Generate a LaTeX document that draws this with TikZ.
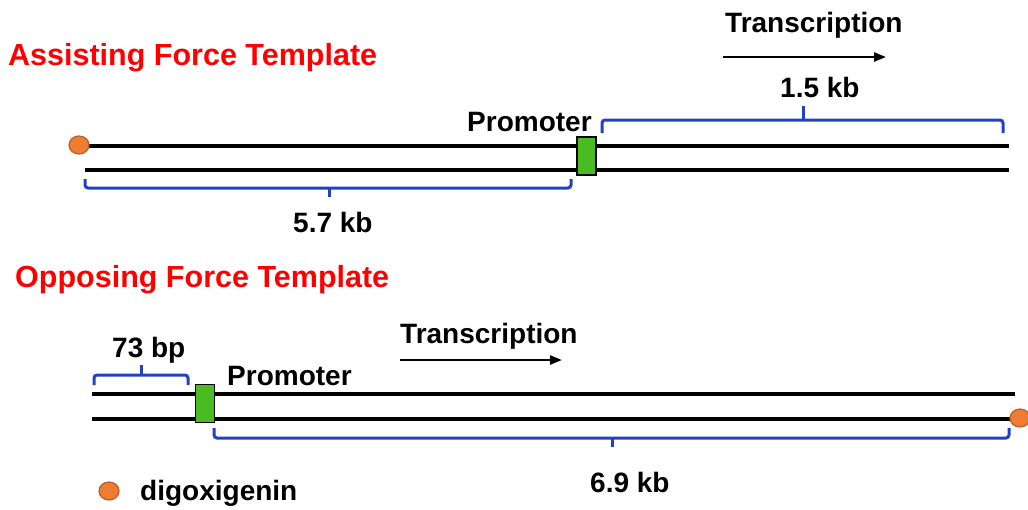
\documentclass[tikz,border=0pt]{standalone}
\usepackage{fontspec}
\setmainfont{Liberation Sans}
\usetikzlibrary{arrows.meta,shapes.geometric}
\definecolor{titlered}{RGB}{255,0,0}
\definecolor{bracketblue}{RGB}{34,64,196}
\definecolor{promgreen}{RGB}{72,188,32}
\definecolor{digorange}{RGB}{237,125,49}
\definecolor{digedge}{RGB}{190,94,34}
\tikzset{
  title/.style={anchor=base west, inner sep=0pt, text=titlered, font=\fontsize{30.5}{34}\selectfont\bfseries},
  label/.style={anchor=base west, inner sep=0pt, font=\fontsize{28}{32}\selectfont\bfseries},
  strand/.style={line width=3.2pt, black},
  bracket/.style={line width=3pt, bracketblue, rounded corners=3pt},
  promoter/.style={draw=black, line width=1.4pt, fill=promgreen, minimum width=19pt, minimum height=38pt, inner sep=0pt},
  digdot/.style={ellipse, draw=digedge, line width=1.2pt, fill=digorange, minimum width=20pt, minimum height=18pt, inner sep=0pt},
  txarrow/.style={line width=2.4pt, -{Triangle[length=12pt, width=9pt]}}
}
\begin{document}
\begin{tikzpicture}[x=1pt, y=-1pt]
\useasboundingbox (0,0) rectangle (1028,509);

% ---------- assisting force template ----------
\node[title] (assistTitle) at (8,65) {Assisting Force Template};
\node[label] (assistTx) at (725,32) {Transcription};
\coordinate (assistArrowL) at (723,57);
\coordinate (assistArrowR) at (886,57);
\draw[txarrow] (assistArrowL) -- (assistArrowR);

\coordinate (aTopL) at (80,146);
\coordinate (aTopR) at (1009,146);
\coordinate (aBotL) at (85,170);
\coordinate (aBotR) at (1009,170);
\draw[strand] (aTopL) -- (aTopR);
\draw[strand] (aBotL) -- (aBotR);
\node[promoter] (assistProm) at (586.5,156) {};
\node[digdot] (assistDig) at (79,145) {};
\node[label] (assistPromLbl) at (467,131) {Promoter};

% 1.5 kb bracket
\coordinate (b15L) at (602,133);
\coordinate (b15R) at (1003,133);
\coordinate (b15Tip) at (803,106);
\draw[bracket] (b15L) -- (602,120) -- (1003,120) -- (b15R);
\draw[bracket] (803,120) -- (b15Tip);
\node[label] (kb15) at (780,97) {1.5 kb};

% 5.7 kb bracket
\coordinate (b57L) at (85,179);
\coordinate (b57R) at (571,179);
\coordinate (b57Tip) at (329,197);
\draw[bracket] (b57L) -- (85,188) -- (571,188) -- (b57R);
\draw[bracket] (329,188) -- (b57Tip);
\node[label] (kb57) at (293,232) {5.7 kb};

% ---------- opposing force template ----------
\node[title] (opposeTitle) at (15,287) {Opposing Force Template};
\node[label] (opposeTx) at (400,343) {Transcription};
\coordinate (opposeArrowL) at (400,360);
\coordinate (opposeArrowR) at (562,360);
\draw[txarrow] (opposeArrowL) -- (opposeArrowR);

\coordinate (oTopL) at (92,394);
\coordinate (oTopR) at (1015,394);
\coordinate (oBotL) at (92,419);
\coordinate (oBotR) at (1020,419);
\draw[strand] (oTopL) -- (oTopR);
\draw[strand] (oBotL) -- (oBotR);
\node[promoter] (opposeProm) at (205,403.5) {};
\node[digdot] (opposeDig) at (1020,418) {};
\node[label] (opposePromLbl) at (227,385) {Promoter};

% 73 bp bracket
\coordinate (b73L) at (94,385);
\coordinate (b73R) at (188,385);
\coordinate (b73Tip) at (141,365);
\draw[bracket] (b73L) -- (94,375) -- (188,375) -- (b73R);
\draw[bracket] (141,375) -- (b73Tip);
\node[label] (bp73) at (112,357) {73 bp};

% 6.9 kb bracket
\coordinate (b69L) at (214,428);
\coordinate (b69R) at (1009,428);
\coordinate (b69Tip) at (612,447);
\draw[bracket] (b69L) -- (214,438) -- (1009,438) -- (b69R);
\draw[bracket] (612,438) -- (b69Tip);
\node[label] (kb69) at (590,492) {6.9 kb};

% ---------- legend ----------
\node[digdot] (legendDig) at (109,491) {};
\node[label] (legendLbl) at (140,500) {digoxigenin};
\end{tikzpicture}
\end{document}
